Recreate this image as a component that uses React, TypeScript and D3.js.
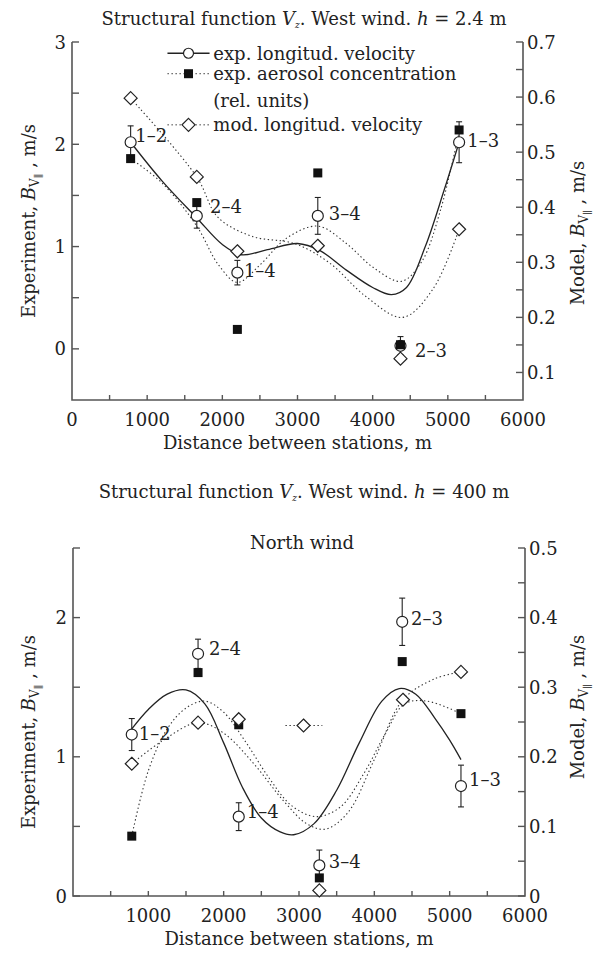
import React from 'react';
import * as d3 from 'd3';

// ---- panel 1: h = 2.4 m ----
const topStations = [780, 1660, 2200, 3270, 4370, 5150];
const topPairs = ['1–2', '2–4', '1–4', '3–4', '2–3', '1–3'];
const topVelocity = [2.02, 1.3, 0.745, 1.3, 0.03, 2.02];
const topVelocityErr = [0.16, 0.12, 0.12, 0.18, 0.09, 0.2];
const topAerosol = [1.86, 1.43, 0.19, 1.72, 0.04, 2.14];
const topModel = [0.598, 0.455, 0.32, 0.33, 0.125, 0.36];
const topLabelX = [842, 1836, 2287, 3415, 4564, 5258];
const topLabelY = [2.09, 1.39, 0.765, 1.325, -0.016, 2.04];

const topVelFitX = [780, 1200, 1660, 2000, 2250, 2600, 3000, 3300, 3650, 4000, 4250, 4450, 4700, 4950, 5150];
const topVelFitY = [2.02, 1.64, 1.28, 1.02, 0.92, 0.97, 1.03, 0.96, 0.77, 0.6, 0.53, 0.6, 1.0, 1.55, 2.02];
const topAerFitX = [780, 1200, 1660, 1950, 2200, 2500, 2850, 3270, 3650, 4000, 4380, 4650, 4900, 5150];
const topAerFitY = [1.86, 1.62, 1.2, 0.82, 0.65, 0.82, 1.08, 1.2, 1.03, 0.8, 0.66, 0.85, 1.35, 2.12];
const topModFitX = [780, 1660, 1940, 2400, 2960, 3425, 3900, 4400, 4800, 5150];
const topModFitY = [0.598, 0.455, 0.382, 0.347, 0.334, 0.299, 0.239, 0.2, 0.251, 0.36];

const topLeftTicks = [0, 1, 2, 3];
const topLeftMinor = [0.5, 1.5, 2.5];
const topRightTicks = [0.1, 0.2, 0.3, 0.4, 0.5, 0.6, 0.7];
const topRightMinor = [0.15, 0.25, 0.35, 0.45, 0.55, 0.65];
const topXLabels = [0, 1000, 2000, 3000, 4000, 5000, 6000];

const legendRows = ['exp. longitud. velocity', 'exp. aerosol concentration', '(rel. units)', 'mod. longitud. velocity'];
const legendRowY = [2.89, 2.69, 2.43, 2.19];

// ---- panel 2: h = 400 m, north wind ----
const botStations = [780, 1660, 2200, 3270, 4370, 5150];
const botPairs = ['1–2', '2–4', '1–4', '3–4', '2–3', '1–3'];
const botVelocity = [1.16, 1.74, 0.57, 0.22, 1.97, 0.79];
const botVelocityErr = [0.115, 0.105, 0.1, 0.11, 0.17, 0.15];
const botAerosol = [0.43, 1.605, 1.23, 0.13, 1.684, 1.31];
const botModelX = [780, 1660, 2200, 3060, 3270, 4380, 5150];
const botModel = [0.19, 0.249, 0.254, 0.245, 0.008, 0.282, 0.322];
const botLabelX = [872, 1805, 2308, 3395, 4487, 5256];
const botLabelY = [1.17, 1.78, 0.61, 0.25, 1.99, 0.84];

const botVelFitX = [780, 1000, 1250, 1500, 1750, 2000, 2250, 2500, 2750, 2930, 3200, 3500, 3800, 4100, 4330, 4550, 4800, 5000, 5150];
const botVelFitY = [1.2, 1.34, 1.45, 1.48, 1.38, 1.1, 0.78, 0.56, 0.46, 0.44, 0.52, 0.76, 1.1, 1.4, 1.49, 1.45, 1.28, 1.12, 0.98];
const botAerFitX = [780, 1000, 1250, 1500, 1750, 2000, 2300, 2600, 2900, 3230, 3550, 3850, 4150, 4400, 4700, 5150];
const botAerFitY = [0.43, 0.9, 1.2, 1.35, 1.4, 1.32, 1.1, 0.85, 0.65, 0.57, 0.64, 0.87, 1.17, 1.38, 1.4, 1.31];
const botModFitX = [780, 1200, 1660, 2000, 2400, 2800, 3100, 3350, 3650, 4000, 4380, 4800, 5150];
const botModFitY = [0.19, 0.224, 0.249, 0.234, 0.19, 0.136, 0.104, 0.096, 0.12, 0.196, 0.282, 0.312, 0.322];
const botModStrayX = [2820, 3310];
const botModStrayY = [0.245, 0.245];

const botLeftTicks = [0, 1, 2];
const botLeftMinor = [0.5, 1.5, 2.5];
const botRightTicks = [0, 0.1, 0.2, 0.3, 0.4, 0.5];
const botRightMinor = [0.05, 0.15, 0.25, 0.35, 0.45];
const botXLabels = [1000, 2000, 3000, 4000, 5000, 6000];

const FONT = '"DejaVu Serif", "Liberation Serif", serif';
const FS = 18;
const INK = '#222';
const AXIS = '#555';
const DOT = '1.4 2.6';

const diamond = (cx: number, cy: number, r = 6.5) =>
  `M${cx},${cy - r}L${cx + r},${cy}L${cx},${cy + r}L${cx - r},${cy}Z`;

function AxisLabel({ x, y, prefix }: { x: number; y: number; prefix: string }) {
  return (
    <text transform={`translate(${x},${y}) rotate(-90)`} textAnchor="middle" fontSize={FS} fill={INK}>
      {prefix}
      <tspan fontStyle="italic">B</tspan>
      <tspan fontSize={12} dy={4}>V</tspan>
      <tspan fontSize={10} dy={3}>∥</tspan>
      <tspan dy={-7}> , m/s</tspan>
    </text>
  );
}

function Title({ y, h }: { y: number; h: string }) {
  return (
    <text x={304} y={y} textAnchor="middle" fontSize={FS} fill={INK}>
      Structural function <tspan fontStyle="italic">V</tspan>
      <tspan fontStyle="italic" fontSize={9} dy={3}>z</tspan>
      <tspan dy={-3}>. West wind. </tspan>
      <tspan fontStyle="italic">h</tspan> = {h} m
    </text>
  );
}

type PanelProps = {
  frame: { left: number; right: number; top: number; bottom: number };
  leftDomain: [number, number];
  rightDomain: [number, number];
  leftTicks: number[];
  leftMinor: number[];
  rightTicks: number[];
  rightMinor: number[];
  xLabels: number[];
  stations: number[];
  pairs: string[];
  velocity: number[];
  velocityErr: number[];
  aerosol: number[];
  modelX: number[];
  model: number[];
  labelX: number[];
  labelY: number[];
  velFit: [number[], number[]];
  aerFit: [number[], number[]];
  modFit: [number[], number[]];
  extraModel?: [number[], number[]];
  legend?: boolean;
  note?: string;
  leftLabelShift: number;
  rightLabelShift: number;
};

function Panel(p: PanelProps) {
  const { frame } = p;
  const x = d3.scaleLinear().domain([0, 6000]).range([frame.left, frame.right]);
  const yL = d3.scaleLinear().domain(p.leftDomain).range([frame.bottom, frame.top]);
  const yR = d3.scaleLinear().domain(p.rightDomain).range([frame.bottom, frame.top]);
  const curve = (xs: number[], ys: number[], y: d3.ScaleLinear<number, number>) =>
    d3.line<number>().x((d) => x(d)).y((_, i) => y(ys[i])).curve(d3.curveCatmullRom.alpha(0.5))(xs) || '';

  const xMinor = d3.range(500, 6000, 500);
  const midY = (frame.top + frame.bottom) / 2;

  return (
    <g fontFamily={FONT}>
      {/* fitted curves */}
      <path d={curve(p.velFit[0], p.velFit[1], yL)} fill="none" stroke="#222" strokeWidth={1.3} />
      <path d={curve(p.aerFit[0], p.aerFit[1], yL)} fill="none" stroke="#333" strokeWidth={1.1} strokeDasharray={DOT} />
      <path d={curve(p.modFit[0], p.modFit[1], yR)} fill="none" stroke="#333" strokeWidth={1.1} strokeDasharray={DOT} />
      {p.extraModel && (
        <path d={curve(p.extraModel[0], p.extraModel[1], yR)} fill="none" stroke="#333" strokeWidth={1.1} strokeDasharray={DOT} />
      )}

      {/* axes */}
      <path
        d={`M${frame.left},${frame.top}V${frame.bottom}H${frame.right}V${frame.top}`}
        fill="none"
        stroke={AXIS}
        strokeWidth={1.6}
      />
      {p.leftTicks.concat(p.leftMinor).map((t) => (
        <line key={'l' + t} x1={frame.left} x2={frame.left + 7} y1={yL(t)} y2={yL(t)} stroke={AXIS} strokeWidth={1.4} />
      ))}
      {p.leftTicks.map((t) => (
        <text key={'lt' + t} x={frame.left - 6} y={yL(t) + 6.5} textAnchor="end" fontSize={FS} fill={INK}>
          {t}
        </text>
      ))}
      {p.rightTicks.concat(p.rightMinor).map((t) => (
        <line key={'r' + t} x1={frame.right - 7} x2={frame.right} y1={yR(t)} y2={yR(t)} stroke={AXIS} strokeWidth={1.4} />
      ))}
      {p.rightTicks.map((t) => (
        <text key={'rt' + t} x={frame.right + 4} y={yR(t) + 6.5} fontSize={FS} fill={INK}>
          {t === 0 ? '0' : t.toFixed(1)}
        </text>
      ))}
      {xMinor.map((t) => (
        <line key={'x' + t} x1={x(t)} x2={x(t)} y1={frame.bottom} y2={frame.bottom - 5} stroke={AXIS} strokeWidth={1.4} />
      ))}
      {p.xLabels.map((t) => (
        <text key={'xt' + t} x={x(t)} y={frame.bottom + 26} textAnchor="middle" fontSize={FS} fill={INK}>
          {t}
        </text>
      ))}
      <text x={(frame.left + frame.right) / 2} y={frame.bottom + 49} textAnchor="middle" fontSize={FS} fill={INK}>
        Distance between stations, m
      </text>
      <AxisLabel x={35} y={midY + p.leftLabelShift} prefix="Experiment, " />
      <AxisLabel x={584} y={midY + p.rightLabelShift} prefix="Model, " />
      {p.note && (
        <text x={x(3040)} y={frame.top + 1} textAnchor="middle" fontSize={FS} fill={INK}>
          {p.note}
        </text>
      )}

      {/* error bars */}
      {p.stations.map((s, i) => {
        const lo = yL(p.velocity[i] - p.velocityErr[i]);
        const hi = yL(p.velocity[i] + p.velocityErr[i]);
        return (
          <g key={'e' + i} stroke="#222" strokeWidth={1.1}>
            <line x1={x(s)} x2={x(s)} y1={lo} y2={hi} />
            <line x1={x(s) - 3} x2={x(s) + 3} y1={lo} y2={lo} />
            <line x1={x(s) - 3} x2={x(s) + 3} y1={hi} y2={hi} />
          </g>
        );
      })}
      {/* velocity */}
      {p.stations.map((s, i) => (
        <circle key={'c' + i} cx={x(s)} cy={yL(p.velocity[i])} r={5.5} fill="#fff" stroke="#222" strokeWidth={1.2} />
      ))}
      {/* aerosol */}
      {p.stations.map((s, i) => (
        <rect key={'s' + i} x={x(s) - 4.5} y={yL(p.aerosol[i]) - 4.5} width={9} height={9} fill="#111" />
      ))}
      {/* model */}
      {p.modelX.map((s, i) => (
        <path key={'d' + i} d={diamond(x(s), yR(p.model[i]))} fill="#fff" stroke="#222" strokeWidth={1.2} />
      ))}
      {/* pair labels */}
      {p.pairs.map((name, i) => (
        <text key={'p' + i} x={x(p.labelX[i])} y={yL(p.labelY[i]) + 6.5} fontSize={FS} fill={INK}>
          {name}
        </text>
      ))}

      {p.legend && (
        <g>
          {legendRows.map((row, i) => (
            <text key={'lg' + i} x={x(1880)} y={yL(legendRowY[i]) + 6.5} fontSize={FS} fill={INK}>
              {row}
            </text>
          ))}
          <line x1={x(1270)} x2={x(1830)} y1={yL(legendRowY[0])} y2={yL(legendRowY[0])} stroke="#222" strokeWidth={1.3} />
          <circle cx={x(1550)} cy={yL(legendRowY[0])} r={5} fill="#fff" stroke="#222" strokeWidth={1.2} />
          <line x1={x(1270)} x2={x(1830)} y1={yL(legendRowY[1])} y2={yL(legendRowY[1])} stroke="#333" strokeDasharray={DOT} />
          <rect x={x(1550) - 4.5} y={yL(legendRowY[1]) - 4.5} width={9} height={9} fill="#111" />
          <line x1={x(1270)} x2={x(1830)} y1={yL(legendRowY[3])} y2={yL(legendRowY[3])} stroke="#333" strokeDasharray={DOT} />
          <path d={diamond(x(1550), yL(legendRowY[3]))} fill="#fff" stroke="#222" strokeWidth={1.2} />
        </g>
      )}
    </g>
  );
}

export default function App() {
  return (
    <svg width={608} height={958} style={{ position: 'absolute', left: 0, top: 0 }}>
      <rect width={608} height={958} fill="#fff" />
      <g fontFamily={FONT}>
        <Title y={25} h="2.4" />
        <Title y={498} h="400" />
      </g>
      <Panel
        frame={{ left: 72, right: 523, top: 42, bottom: 400 }}
        leftDomain={[-0.5, 3]}
        rightDomain={[0.05, 0.7]}
        leftTicks={topLeftTicks}
        leftMinor={topLeftMinor}
        rightTicks={topRightTicks}
        rightMinor={topRightMinor}
        xLabels={topXLabels}
        stations={topStations}
        pairs={topPairs}
        velocity={topVelocity}
        velocityErr={topVelocityErr}
        aerosol={topAerosol}
        modelX={topStations}
        model={topModel}
        labelX={topLabelX}
        labelY={topLabelY}
        velFit={[topVelFitX, topVelFitY]}
        aerFit={[topAerFitX, topAerFitY]}
        modFit={[topModFitX, topModFitY]}
        legend
        leftLabelShift={0}
        rightLabelShift={12}
      />
      <Panel
        frame={{ left: 73, right: 525, top: 548, bottom: 896 }}
        leftDomain={[0, 2.5]}
        rightDomain={[0, 0.5]}
        leftTicks={botLeftTicks}
        leftMinor={botLeftMinor}
        rightTicks={botRightTicks}
        rightMinor={botRightMinor}
        xLabels={botXLabels}
        stations={botStations}
        pairs={botPairs}
        velocity={botVelocity}
        velocityErr={botVelocityErr}
        aerosol={botAerosol}
        modelX={botModelX}
        model={botModel}
        labelX={botLabelX}
        labelY={botLabelY}
        velFit={[botVelFitX, botVelFitY]}
        aerFit={[botAerFitX, botAerFitY]}
        modFit={[botModFitX, botModFitY]}
        extraModel={[botModStrayX, botModStrayY]}
        note="North wind"
        leftLabelShift={10}
        rightLabelShift={-15}
      />
    </svg>
  );
}
